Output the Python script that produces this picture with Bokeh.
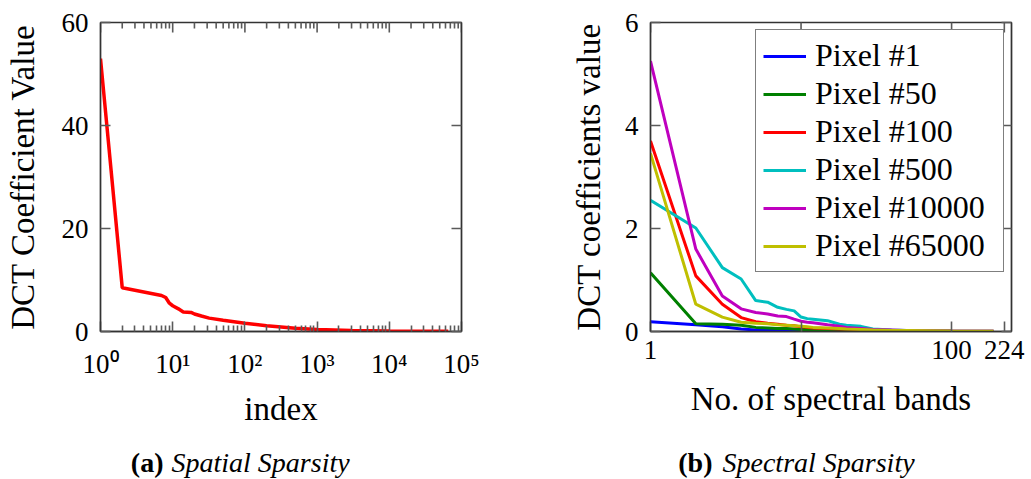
import math
from bokeh.plotting import figure
from bokeh.models import Range1d, LinearAxis, FixedTicker, Legend, LegendItem
from bokeh.layouts import column, row
from bokeh.embed import file_html
from bokeh.resources import INLINE
from bokeh.core.properties import value

FONT = "Liberation Serif"

# ---------------- data: (a) spatial sparsity ----------------
sp_index = [1, 2, 7, 8, 9, 10, 12, 14, 18, 20, 25, 32, 50, 100, 200, 500, 1000, 3000, 10000, 65536]
sp_value = [53.0, 8.5, 7.0, 6.6, 5.5, 5.0, 4.4, 3.8, 3.7, 3.4, 3.0, 2.6, 2.2, 1.6, 1.1, 0.65, 0.4, 0.2, 0.08, 0.03]
sp_xticks = [1, 10, 100, 1000, 10000, 100000]
sp_xlabels = ["10⁰", "10¹", "10²", "10³", "10⁴", "10⁵"]
sp_yticks = [0, 20, 40, 60]

# ---------------- data: (b) spectral sparsity ----------------
bands = [1, 2, 3, 4, 5, 6, 7, 8, 9, 10, 11, 12, 15, 18, 20, 25, 30, 40, 50, 100, 190]
pixel_1 = [0.19, 0.13, 0.09, 0.05, 0.03, 0.025, 0.02, 0.02, 0.015, 0.01, 0.01, 0.01, 0.01, 0.005, 0.005, 0.005, 0.005, 0.003, 0.003, 0.002, 0.001]
pixel_50 = [1.14, 0.15, 0.14, 0.12, 0.08, 0.07, 0.06, 0.06, 0.05, 0.04, 0.04, 0.035, 0.03, 0.025, 0.02, 0.02, 0.015, 0.01, 0.01, 0.005, 0.002]
pixel_100 = [3.70, 1.08, 0.53, 0.27, 0.19, 0.16, 0.14, 0.12, 0.11, 0.09, 0.08, 0.07, 0.06, 0.05, 0.05, 0.04, 0.03, 0.02, 0.02, 0.01, 0.005]
pixel_500 = [2.55, 2.01, 1.24, 1.02, 0.60, 0.57, 0.47, 0.43, 0.40, 0.28, 0.25, 0.24, 0.21, 0.14, 0.12, 0.10, 0.05, 0.03, 0.02, 0.01, 0.005]
pixel_10000 = [5.25, 1.60, 0.69, 0.44, 0.37, 0.34, 0.30, 0.29, 0.24, 0.20, 0.18, 0.17, 0.13, 0.10, 0.08, 0.06, 0.04, 0.03, 0.02, 0.01, 0.005]
pixel_65000 = [3.46, 0.53, 0.28, 0.18, 0.16, 0.15, 0.13, 0.12, 0.11, 0.10, 0.09, 0.08, 0.07, 0.06, 0.05, 0.04, 0.03, 0.02, 0.02, 0.01, 0.005]
series_labels = ["Pixel #1", "Pixel #50", "Pixel #100", "Pixel #500", "Pixel #10000", "Pixel #65000"]
series_values = [pixel_1, pixel_50, pixel_100, pixel_500, pixel_10000, pixel_65000]
series_colors = ["#0000ff", "#008000", "#ff0000", "#00bfbf", "#bf00bf", "#bfbf00"]
sb_xticks = [1, 10, 100, 224]
sb_xlabels = ["1", "10", "100", "224"]
sb_yticks = [0, 2, 4, 6]

captions_bold = ["(a)", "(b)"]
captions_italic = ["Spatial Sparsity", "Spectral Sparsity"]

TICK_COLOR = "#5a5a5a"
FRAME_COLOR = "#333333"
Y_MAX_A = 60
Y_MAX_B = 6


def style_axis(ax, labels=True, tick_standoff=12, label_standoff=16):
    ax.major_tick_in = 10
    ax.major_tick_out = 0
    ax.minor_tick_in = 6
    ax.minor_tick_out = 0
    ax.major_tick_line_color = TICK_COLOR
    ax.minor_tick_line_color = TICK_COLOR
    ax.major_tick_line_width = 1.6
    ax.minor_tick_line_width = 1.6
    ax.axis_line_color = FRAME_COLOR
    ax.axis_line_width = 1.4
    ax.major_label_text_font = FONT
    ax.major_label_text_color = "black" if labels else None
    ax.major_label_text_font_size = "27px" if labels else "1px"
    ax.major_label_standoff = tick_standoff if labels else 0
    ax.axis_label_text_font = FONT
    ax.axis_label_text_font_size = "33px"
    ax.axis_label_text_font_style = "normal"
    ax.axis_label_text_color = "black"
    ax.axis_label_standoff = label_standoff


def base_fig(width, height, x_range, y_range, borders):
    p = figure(width=width, height=height, x_axis_type="log", x_range=x_range, y_range=y_range,
               output_backend="svg", toolbar_location=None, title_location=None,
               min_border_left=borders[0], min_border_right=borders[1],
               min_border_top=borders[2], min_border_bottom=borders[3])
    p.grid.visible = False
    p.outline_line_color = FRAME_COLOR
    p.outline_line_width = 1.4
    p.background_fill_color = "white"
    p.border_fill_color = "white"
    return p


def top_ticks(p, ticks, y_top, size):
    # vertical dash markers centred on the top frame edge: the inner half shows as a tick
    p.scatter(x=ticks, y=[y_top] * len(ticks), marker="dash", angle=math.pi / 2, size=size,
              line_color=TICK_COLOR, line_width=1.6)


# ---------------- (a) ----------------
p1 = base_fig(525, 430, Range1d(1, 1e5), Range1d(0, Y_MAX_A), (100, 64, 22, 97))
minor_a = [m * 10 ** d for d in range(5) for m in range(2, 10)]
p1.xaxis.ticker = FixedTicker(ticks=sp_xticks, minor_ticks=minor_a)
p1.yaxis.ticker = FixedTicker(ticks=sp_yticks, minor_ticks=[])
p1.xaxis.major_label_overrides = {t: l for t, l in zip(sp_xticks, sp_xlabels)}
p1.xaxis.axis_label = "index"
p1.yaxis.axis_label = "DCT Coefficient Value"
for ax in p1.xaxis:
    style_axis(ax, tick_standoff=17, label_standoff=9)
for ax in p1.yaxis:
    style_axis(ax, tick_standoff=12, label_standoff=18)
right_a = LinearAxis(ticker=FixedTicker(ticks=sp_yticks, minor_ticks=[]))
style_axis(right_a, labels=False)
p1.add_layout(right_a, "right")
top_ticks(p1, sp_xticks, Y_MAX_A, 20)
top_ticks(p1, minor_a, Y_MAX_A, 12)
p1.line(sp_index, sp_value, line_color="#ff0000", line_width=3.5)

# ---------------- (b) ----------------
p2 = base_fig(506, 430, Range1d(1, 250), Range1d(0, Y_MAX_B), (125, 20, 20, 99))
p2.xaxis.ticker = FixedTicker(ticks=sb_xticks, minor_ticks=[])
p2.yaxis.ticker = FixedTicker(ticks=sb_yticks, minor_ticks=[])
p2.xaxis.major_label_overrides = {t: l for t, l in zip(sb_xticks, sb_xlabels)}
p2.xaxis.axis_label = "No. of spectral bands"
p2.yaxis.axis_label = "DCT coefficients value"
for ax in p2.xaxis:
    style_axis(ax, tick_standoff=9, label_standoff=19)
for ax in p2.yaxis:
    style_axis(ax, tick_standoff=12, label_standoff=15)
right_b = LinearAxis(ticker=FixedTicker(ticks=sb_yticks, minor_ticks=[]))
style_axis(right_b, labels=False)
p2.add_layout(right_b, "right")
top_ticks(p2, sb_xticks, Y_MAX_B, 20)

items = []
for lbl, vals, col in zip(series_labels, series_values, series_colors):
    r = p2.line(bands, vals, line_color=col, line_width=3)
    items.append(LegendItem(label=lbl, renderers=[r]))
legend = Legend(items=items, location="top_right")
legend.label_text_font = FONT
legend.label_text_font_size = "32px"
legend.label_text_color = "black"
legend.glyph_width = 43
legend.glyph_height = 30
legend.label_standoff = 9
legend.label_width = 181
legend.padding = 7
legend.spacing = 1
legend.margin = 7
legend.border_line_color = "black"
legend.border_line_width = 1.3
legend.background_fill_alpha = 1.0
p2.add_layout(legend)

# ---------------- captions ----------------
pc = figure(width=1031, height=49, x_range=Range1d(0, 1031), y_range=Range1d(0, 49),
            output_backend="svg", toolbar_location=None, min_border=0, title_location=None,
            x_axis_location=None, y_axis_location=None)
pc.grid.visible = False
pc.outline_line_color = None
pc.text(x=[163, 712], y=[17, 17], text=captions_bold, text_font=value(FONT), text_font_style="bold",
        text_font_size="28px", text_align="right", text_baseline="alphabetic", text_color="black")
pc.text(x=[171, 722], y=[17, 17], text=captions_italic, text_font=value(FONT), text_font_style="italic",
        text_font_size="28px", text_align="left", text_baseline="alphabetic", text_color="black")

layout = column(row(p1, p2), pc)
open("out.html", "w").write(file_html(layout, INLINE))
